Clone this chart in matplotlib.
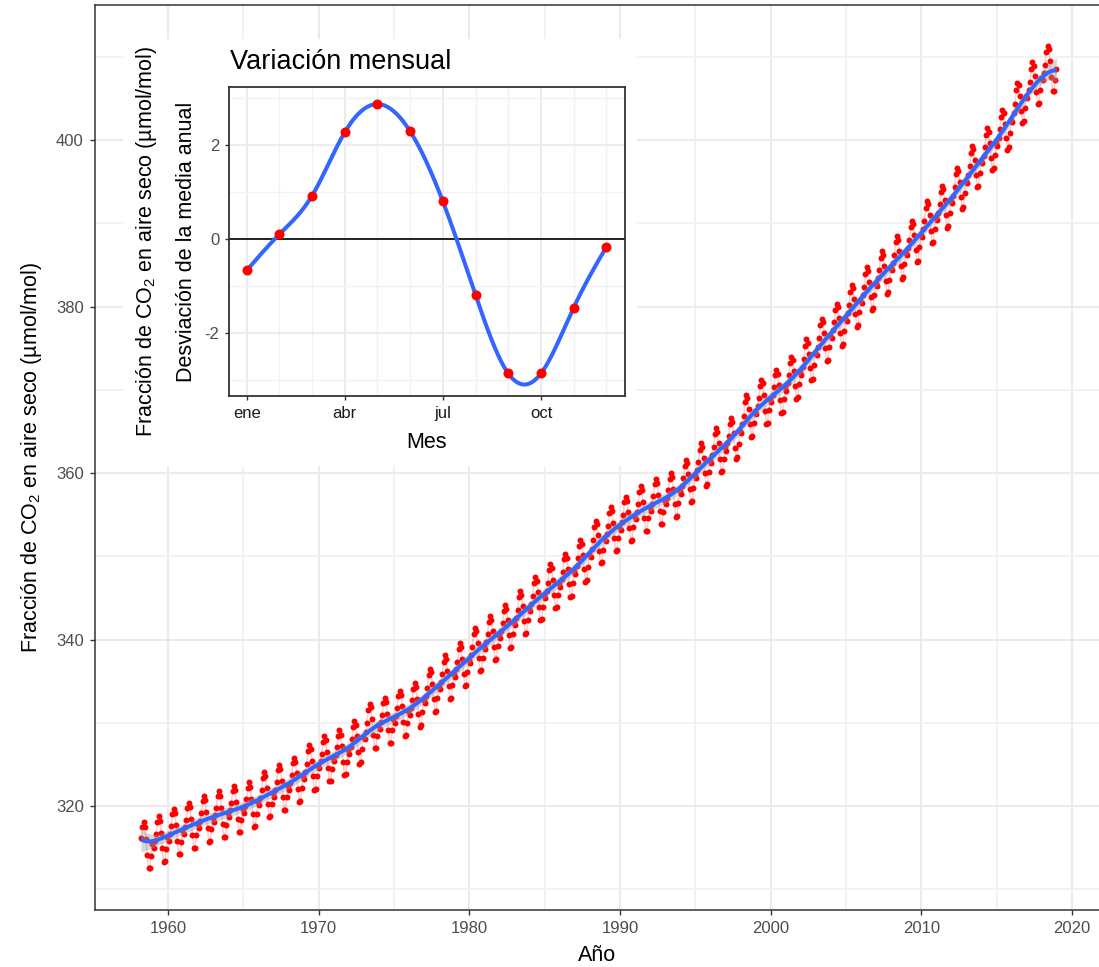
import numpy as np
import matplotlib
matplotlib.use("Agg")
import matplotlib.pyplot as plt
from matplotlib.patches import Rectangle

plt.rcParams['font.family'] = ['Liberation Sans', 'DejaVu Sans']
plt.rcParams['mathtext.fontset'] = 'custom'
plt.rcParams['mathtext.rm'] = 'Liberation Sans'
plt.rcParams['mathtext.it'] = 'Liberation Sans:italic'
plt.rcParams['axes.unicode_minus'] = False

# annual mean CO2 at Mauna Loa (ppm), 1958-2018
years = np.arange(1958, 2019)
annual_mean = [
    315.23, 315.98, 316.91, 317.64, 318.45, 318.99, 319.62, 320.04, 321.37, 322.18,
    323.05, 324.62, 325.68, 326.32, 327.46, 329.68, 330.19, 331.12, 332.03, 333.84,
    335.41, 336.84, 338.76, 340.12, 341.48, 343.15, 344.85, 346.35, 347.61, 349.31,
    351.69, 353.20, 354.45, 355.70, 356.54, 357.21, 358.96, 360.97, 362.74, 363.88,
    366.84, 368.54, 369.71, 371.32, 373.45, 375.98, 377.70, 379.98, 382.09, 384.02,
    385.83, 387.64, 390.10, 391.85, 394.06, 396.74, 398.81, 401.01, 404.41, 406.76,
    408.72,
]

# mean monthly deviation from the annual mean (inset)
month_labels = ['ene', 'feb', 'mar', 'abr', 'may', 'jun',
                'jul', 'ago', 'sep', 'oct', 'nov', 'dic']
seasonal = [-0.67, 0.10, 0.92, 2.27, 2.87, 2.29,
            0.80, -1.19, -2.86, -2.86, -1.46, -0.17]

first_month = 3   # record starts March 1958


def fx(px):
    return px / 1099


def fy(py):
    return 1 - py / 967


# monthly series: trend from annual means + seasonal deviation
t, co2 = [], []
for y in years:
    for m in range(1, 13):
        if y == years[0] and m < first_month:
            continue
        tt = y + (m - 0.5) / 12
        t.append(tt)
        co2.append(np.interp(tt, years + 0.5, annual_mean) + seasonal[m - 1])
t = np.array(t)
co2 = np.array(co2)

# local linear smoother with a band, like geom_smooth
grid = np.linspace(t.min(), t.max(), 300)
h = 0.8
d = t[None, :] - grid[:, None]
w = np.exp(-0.5 * (d / h) ** 2)
s0 = w.sum(1, keepdims=True)
s1 = (w * d).sum(1, keepdims=True)
s2 = (w * d * d).sum(1, keepdims=True)
L = w * (s2 - s1 * d) / (s0 * s2 - s1 ** 2)
fit = L @ co2
fit_pts = np.interp(t, grid, fit)
sigma = np.std(co2 - fit_pts)
se = sigma * np.sqrt((L ** 2).sum(1))


def natural_spline(x, y, xs):
    x = np.asarray(x, float)
    y = np.asarray(y, float)
    n = len(x)
    hh = np.diff(x)
    A = np.zeros((n, n))
    r = np.zeros(n)
    A[0, 0] = A[-1, -1] = 1
    for i in range(1, n - 1):
        A[i, i - 1] = hh[i - 1]
        A[i, i] = 2 * (hh[i - 1] + hh[i])
        A[i, i + 1] = hh[i]
        r[i] = 6 * ((y[i + 1] - y[i]) / hh[i] - (y[i] - y[i - 1]) / hh[i - 1])
    M = np.linalg.solve(A, r)
    idx = np.clip(np.searchsorted(x, xs) - 1, 0, n - 2)
    x0, x1, hi = x[idx], x[idx + 1], hh[idx]
    return (M[idx] * (x1 - xs) ** 3 / (6 * hi) + M[idx + 1] * (xs - x0) ** 3 / (6 * hi)
            + (y[idx] / hi - M[idx] * hi / 6) * (x1 - xs)
            + (y[idx + 1] / hi - M[idx + 1] * hi / 6) * (xs - x0))


fig = plt.figure(figsize=(10.99, 9.67), dpi=100)

# ---- main panel
ax = fig.add_axes([fx(95), fy(910), fx(1099) - fx(95), fy(5) - fy(910)])
ax.set_zorder(0)
ax.plot(t, co2, color='red', alpha=0.2, lw=1.1, zorder=2)
ax.plot(t, co2, 'o', color='red', ms=4.3, mew=0, zorder=3)
ax.fill_between(grid, fit - 1.96 * se, fit + 1.96 * se, color='#999999', alpha=0.4, lw=0, zorder=4)
ax.plot(grid, fit, color='#3366FF', lw=2.9, zorder=5, solid_capstyle='butt')

ax.set_xlim(1955.155, 2021.79)
ax.set_ylim(307.51, 416.22)
ax.set_xticks(np.arange(1960, 2021, 10))
ax.set_xticks(np.arange(1965, 2020, 10), minor=True)
ax.set_yticks(np.arange(320, 401, 20))
ax.set_yticks(np.arange(310, 411, 20), minor=True)
ax.grid(which='major', color='#EBEBEB', lw=1.5)
ax.grid(which='minor', color='#F0F0F0', lw=1.2)
ax.set_axisbelow(True)
ax.tick_params(which='major', length=3.6, width=1, color='#333333',
               labelsize=12, labelcolor='#4D4D4D', pad=4.5)
ax.tick_params(which='minor', length=0)
for side in ['left', 'bottom', 'top']:
    ax.spines[side].set_color('#333333')
    ax.spines[side].set_linewidth(1.1)
ax.spines['right'].set_visible(False)

fig.text(fx(597), fy(961), 'Año', ha='center', va='baseline', fontsize=15.5)
fig.text(fx(37.3), fy(457.5), 'Fracción de CO$_2$ en aire seco (µmol/mol)',
         rotation=90, rotation_mode='anchor', ha='center', va='baseline', fontsize=15.5)

# ---- inset
fig.add_artist(Rectangle((fx(123), fy(466)), fx(637) - fx(123), fy(39) - fy(466),
                         transform=fig.transFigure, facecolor='white', edgecolor='none', zorder=1))

ins = fig.add_axes([fx(229.3), fy(396), fx(625) - fx(229.3), fy(86.7) - fy(396)])
ins.set_zorder(2)
months = np.arange(1, 13)
xs = np.linspace(1, 12, 400)
ins.axhline(0, color='black', lw=1.2, zorder=2)
ins.plot(xs, natural_spline(months, seasonal, xs), color='#3366FF', lw=2.9, zorder=3)
ins.plot(months, seasonal, 'o', color='red', ms=7.2, mew=0, zorder=4)
ins.set_xlim(0.47, 12.57)
ins.set_ylim(-3.34, 3.24)
ins.set_xticks([1, 4, 7, 10])
ins.set_xticklabels([month_labels[i] for i in [0, 3, 6, 9]])
ins.set_xticks([2, 3, 5, 6, 8, 9, 11, 12], minor=True)
ins.set_yticks([-2, 0, 2])
ins.set_yticks([-3, -1, 1, 3], minor=True)
ins.grid(which='major', color='#EBEBEB', lw=1.3)
ins.grid(which='minor', color='#F2F2F2', lw=1.0)
ins.set_axisbelow(True)
ins.tick_params(which='major', length=3.2, width=1, color='#333333',
                labelsize=12, pad=3.8)
ins.tick_params(axis='y', labelcolor='#4D4D4D')
ins.tick_params(axis='x', labelcolor='#1A1A1A')
ins.tick_params(which='minor', length=0)
for sp in ins.spines.values():
    sp.set_color('#333333')
    sp.set_linewidth(1.3)

fig.text(fx(230), fy(69.3), 'Variación mensual', ha='left', va='baseline', fontsize=19.5)
fig.text(fx(427), fy(447.7), 'Mes', ha='center', va='baseline', fontsize=15.5)
fig.text(fx(152.3), fy(241.4), 'Fracción de CO$_2$ en aire seco (µmol/mol)',
         rotation=90, rotation_mode='anchor', ha='center', va='baseline', fontsize=15.5)
fig.text(fx(191.5), fy(241.4), 'Desviación de la media anual',
         rotation=90, rotation_mode='anchor', ha='center', va='baseline', fontsize=15.5)

fig.savefig('out.png', dpi=100)
